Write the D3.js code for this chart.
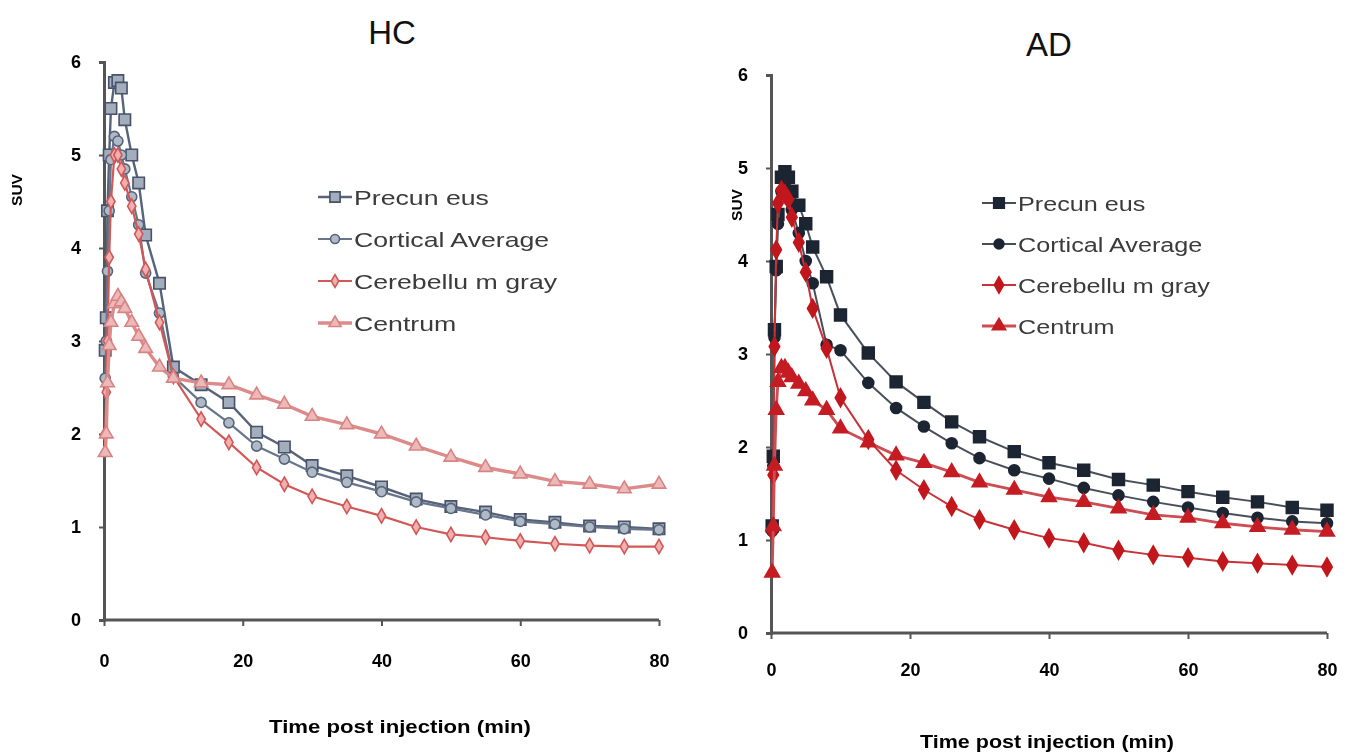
<!DOCTYPE html>
<html>
<head>
<meta charset="utf-8">
<script src="https://cdn.jsdelivr.net/npm/d3@7"></script>
<style>
  html, body { margin: 0; padding: 0; background: #fff; }
  svg { display: block; }
</style>
</head>
<body>
<svg id="chart" width="1353" height="756"></svg>
<script>
// ---------- DATA ----------
const times = [0.17, 0.33, 0.5, 0.75, 1, 1.5, 2, 2.5, 3, 4, 5, 6, 8, 10, 14, 18, 22, 26, 30, 35, 40, 45, 50, 55, 60, 65, 70, 75, 80];
const seriesNames = ["Precuneus", "Cortical Average", "Cerebellum gray", "Centrum"];
const legendLabels = ["Precun eus", "Cortical Average", "Cerebellu m gray", "Centrum"];
const yTicks = [0, 1, 2, 3, 4, 5, 6];
const xTicks = [0, 20, 40, 60, 80];
const panelTitles = ["HC", "AD"];
const xAxisTitle = "Time post injection (min)";
const yAxisTitle = "SUV";

// HC
const hcPrecuneus = [2.9, 3.25, 4.4, 5.0, 5.5, 5.78, 5.8, 5.72, 5.38, 5.0, 4.7, 4.14, 3.62, 2.72, 2.53, 2.34, 2.02, 1.86, 1.66, 1.55, 1.43, 1.3, 1.22, 1.16, 1.08, 1.05, 1.01, 1.0, 0.98];
const hcCortical  = [2.6, 3.0, 3.75, 4.4, 4.95, 5.2, 5.15, 5.0, 4.85, 4.55, 4.25, 3.73, 3.3, 2.62, 2.34, 2.12, 1.87, 1.73, 1.59, 1.48, 1.38, 1.27, 1.2, 1.13, 1.06, 1.03, 1.0, 0.98, 0.97];
const hcCerebellum= [2.0, 2.45, 3.0, 3.9, 4.5, 5.0, 5.0, 4.85, 4.7, 4.45, 4.15, 3.77, 3.2, 2.62, 2.16, 1.91, 1.64, 1.46, 1.33, 1.22, 1.12, 1.0, 0.92, 0.89, 0.85, 0.82, 0.8, 0.79, 0.79];
const hcCentrum   = [1.8, 2.0, 2.55, 2.95, 3.2, 3.4, 3.48, 3.42, 3.35, 3.2, 3.05, 2.92, 2.72, 2.6, 2.55, 2.53, 2.42, 2.32, 2.19, 2.1, 2.0, 1.87, 1.75, 1.64, 1.57, 1.49, 1.46, 1.41, 1.46];
// AD
const adPrecuneus = [1.15, 1.9, 3.26, 3.94, 4.5, 4.9, 4.96, 4.9, 4.75, 4.6, 4.4, 4.15, 3.83, 3.42, 3.01, 2.7, 2.48, 2.27, 2.11, 1.95, 1.83, 1.75, 1.65, 1.59, 1.52, 1.46, 1.41, 1.35, 1.32];
const adCortical  = [1.1, 1.8, 3.18, 3.9, 4.4, 4.75, 4.85, 4.75, 4.55, 4.3, 4.0, 3.76, 3.1, 3.04, 2.69, 2.42, 2.22, 2.04, 1.88, 1.75, 1.66, 1.56, 1.48, 1.41, 1.35, 1.29, 1.24, 1.2, 1.18];
const adCerebellum= [1.1, 1.7, 3.08, 4.12, 4.62, 4.76, 4.72, 4.66, 4.47, 4.2, 3.88, 3.49, 3.06, 2.53, 2.08, 1.75, 1.54, 1.36, 1.22, 1.11, 1.02, 0.97, 0.89, 0.84, 0.81, 0.77, 0.75, 0.73, 0.71];
const adCentrum   = [0.65, 1.15, 1.8, 2.4, 2.7, 2.85, 2.85, 2.8, 2.75, 2.68, 2.6, 2.5, 2.4, 2.2, 2.05, 1.91, 1.83, 1.73, 1.62, 1.54, 1.46, 1.41, 1.34, 1.27, 1.24, 1.18, 1.14, 1.11, 1.09];

// ---------- STYLES ----------
const hcStyles = [
  {shape: "square",  line: "#56647a", stroke: "#46526a", fill: "#a3adbb", lw: 2.4, size: 130},
  {shape: "circle",  line: "#68758a", stroke: "#56647a", fill: "#b0b9c6", lw: 2.2, size: 80},
  {shape: "diamond", line: "#d25858", stroke: "#d25858", fill: "#eeb0b0", lw: 2.2, size: 60},
  {shape: "triangle",line: "#dc8a8a", stroke: "#d88484", fill: "#ecb8b8", lw: 3.4, size: 80}
];
const adStyles = [
  {shape: "square",  line: "#4a505a", stroke: "#1c2532", fill: "#1c2532", lw: 2.0, size: 140},
  {shape: "circle",  line: "#4a505a", stroke: "#1c2532", fill: "#1c2532", lw: 2.0, size: 95},
  {shape: "diamond", line: "#c7333a", stroke: "#c0141c", fill: "#c0141c", lw: 2.0, size: 95},
  {shape: "triangle",line: "#cc4d52", stroke: "#c41e24", fill: "#c41e24", lw: 2.8, size: 95}
];
const symbolFor = {
  square: d3.symbolSquare, circle: d3.symbolCircle,
  diamond: d3.symbolDiamond, triangle: d3.symbolTriangle
};

const panels = [
  {title: panelTitles[0], data: [hcPrecuneus, hcCortical, hcCerebellum, hcCentrum], styles: hcStyles,
   x: d3.scaleLinear([0, 80], [104, 659]), y: d3.scaleLinear([0, 6], [620, 62]),
   titlePos: [392, 44], xtPos: [400, 733], xtLen: 262, ytPos: [22, 190], legend: [318, 197, 42, 1.27], xLabPad: 28},
  {title: panelTitles[1], data: [adPrecuneus, adCortical, adCerebellum, adCentrum], styles: adStyles,
   x: d3.scaleLinear([0, 80], [771, 1327]), y: d3.scaleLinear([0, 6], [633, 75]),
   titlePos: [1049, 56], xtPos: [1047, 748], xtLen: 254, ytPos: [742, 205], legend: [982, 203, 41, 1.2], xLabPad: 24}
];

const svg = d3.select("#chart");
const defs = svg.append("defs");
defs.append("filter").attr("id", "soft").append("feGaussianBlur").attr("stdDeviation", 0.55);
defs.append("filter").attr("id", "softText").append("feGaussianBlur").attr("stdDeviation", 0.4);

const FONT = "Liberation Sans, Arial, sans-serif";

panels.forEach(p => {
  const g = svg.append("g");

  // axes
  const yAxis = d3.axisLeft(p.y).tickValues(yTicks).tickSize(5).tickPadding(18).tickFormat(d3.format("d"));
  const xAxis = d3.axisBottom(p.x).tickValues(xTicks).tickSize(6).tickPadding(p.xLabPad).tickFormat(d3.format("d"));

  const ya = g.append("g").attr("transform", `translate(${p.x(0)},0)`).call(yAxis);
  const xa = g.append("g").attr("transform", `translate(0,${p.y(0)})`).call(xAxis);
  [ya, xa].forEach(a => {
    a.select(".domain").attr("stroke", "#555").attr("stroke-width", 3);
    a.selectAll(".tick line").attr("stroke", "#555").attr("stroke-width", 2);
    a.selectAll(".tick text").attr("fill", "#000").attr("font-family", FONT)
      .attr("font-weight", "bold").attr("font-size", 18).attr("filter", "url(#softText)");
  });
  xa.select(".domain").attr("d", `M${p.x(0)},0H${p.x(80)}`);

  // series
  p.data.forEach((vals, i) => {
    const st = p.styles[i];
    const pts = times.map((t, k) => [t, vals[k]]);
    const line = d3.line().x(d => p.x(d[0])).y(d => p.y(d[1]));
    const sg = g.append("g").attr("filter", "url(#soft)");
    sg.append("path").attr("d", line(pts)).attr("fill", "none")
      .attr("stroke", st.line).attr("stroke-width", st.lw);
    sg.selectAll("path.m").data(pts).join("path").attr("class", "m")
      .attr("transform", d => `translate(${p.x(d[0])},${p.y(d[1])})`)
      .attr("d", d3.symbol(symbolFor[st.shape], st.size))
      .attr("fill", st.fill).attr("stroke", st.stroke).attr("stroke-width", 1.6);
  });

  // legend
  const [lx, ly, dy, sx] = p.legend;
  seriesNames.forEach((name, i) => {
    const st = p.styles[i];
    const row = g.append("g").attr("transform", `translate(${lx},${ly + i * dy})`).attr("filter", "url(#softText)");
    row.append("line").attr("x1", 0).attr("x2", 34).attr("y1", 0).attr("y2", 0)
      .attr("stroke", st.line).attr("stroke-width", st.lw);
    row.append("path").attr("transform", "translate(17,0)")
      .attr("d", d3.symbol(symbolFor[st.shape], st.size * 0.8))
      .attr("fill", st.fill).attr("stroke", st.stroke).attr("stroke-width", 1.6);
    row.append("text").attr("transform", `translate(36,8) scale(${sx},1)`).text(legendLabels[i])
      .attr("font-family", FONT).attr("font-size", 21)
      .attr("fill", "#3a3a3a");
  });

  // titles
  g.append("text").attr("x", p.titlePos[0]).attr("y", p.titlePos[1]).attr("text-anchor", "middle")
    .attr("font-family", FONT).attr("font-size", 33).attr("fill", "#111")
    .text(p.title);
  g.append("text").attr("x", p.xtPos[0]).attr("y", p.xtPos[1]).attr("text-anchor", "middle")
    .attr("font-family", FONT).attr("font-weight", "bold")
    .attr("textLength", p.xtLen).attr("lengthAdjust", "spacingAndGlyphs")
    .attr("font-size", 18).attr("fill", "#000").attr("filter", "url(#softText)").text(xAxisTitle);
  g.append("text").attr("transform", `translate(${p.ytPos[0]},${p.ytPos[1]}) rotate(-90)`)
    .attr("text-anchor", "middle")
    .attr("font-family", FONT).attr("font-weight", "bold")
    .attr("textLength", 32).attr("lengthAdjust", "spacingAndGlyphs")
    .attr("font-size", 15).attr("fill", "#000").attr("filter", "url(#softText)").text(yAxisTitle);
});
</script>
</body>
</html>
